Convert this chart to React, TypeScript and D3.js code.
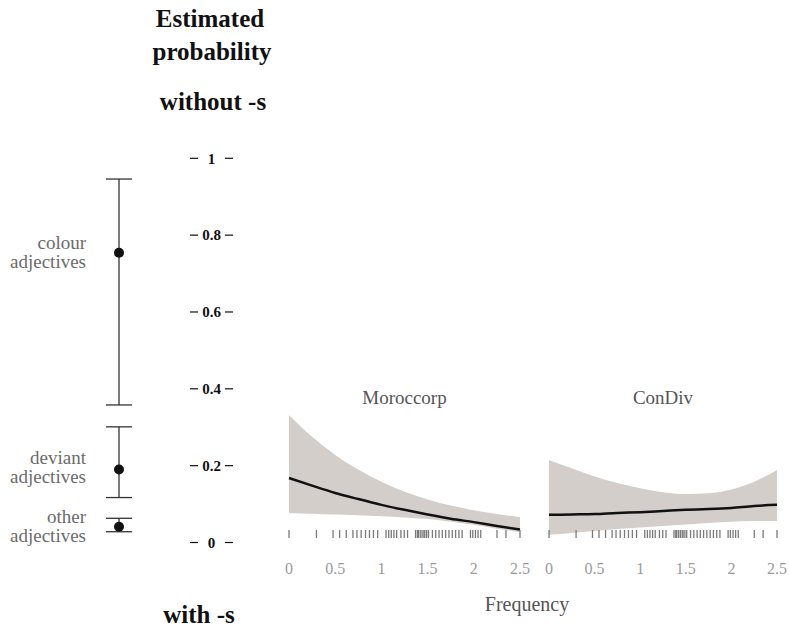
import React from "react";
import * as d3 from "d3";

// ---- data ----
const yTicks = [0, 0.2, 0.4, 0.6, 0.8, 1];
const yTickLabels = ["0", "0.2", "0.4", "0.6", "0.8", "1"];

const adjCategories = ["colour adjectives", "deviant adjectives", "other adjectives"];
const adjEstimate = [0.754, 0.19, 0.041];
const adjLower = [0.358, 0.117, 0.028];
const adjUpper = [0.946, 0.301, 0.063];

const panels = ["Moroccorp", "ConDiv"];
const freqGrid = [0, 0.25, 0.5, 0.75, 1, 1.25, 1.5, 1.75, 2, 2.25, 2.5];
const moroFit = [0.168, 0.148, 0.129, 0.113, 0.098, 0.085, 0.073, 0.062, 0.053, 0.043, 0.034];
const moroUpper = [0.332, 0.275, 0.228, 0.19, 0.158, 0.132, 0.112, 0.096, 0.084, 0.074, 0.066];
const moroLower = [0.077, 0.075, 0.073, 0.071, 0.068, 0.065, 0.061, 0.054, 0.046, 0.036, 0.027];
const conFit = [0.072, 0.073, 0.074, 0.077, 0.079, 0.082, 0.085, 0.087, 0.09, 0.095, 0.098];
const conUpper = [0.215, 0.193, 0.172, 0.155, 0.141, 0.131, 0.126, 0.128, 0.138, 0.158, 0.189];
const conLower = [0.02, 0.025, 0.03, 0.035, 0.039, 0.043, 0.047, 0.051, 0.054, 0.056, 0.056];

const rugFreqs = [
  0, 0.297, 0.477, 0.548, 0.62, 0.692, 0.735, 0.781, 0.828, 0.871, 0.914, 0.96,
  1.05, 1.079, 1.107, 1.136, 1.165, 1.211, 1.247, 1.283,
  1.37, 1.39, 1.4, 1.42, 1.44, 1.46, 1.47, 1.49, 1.51,
  1.552, 1.588, 1.624, 1.659, 1.695, 1.731, 1.767, 1.803, 1.839, 1.874,
  1.964, 1.989, 2.018, 2.046, 2.075, 2.251, 2.348, 2.5,
];
const xTicks = [0, 0.5, 1, 1.5, 2, 2.5];
const xTickLabels = ["0", "0.5", "1", "1.5", "2", "2.5"];

const SERIF = "'Liberation Serif', 'DejaVu Serif', serif";

export default function App() {
  const W = 789, H = 629;
  const y = d3.scaleLinear().domain([0, 1]).range([542.5, 158.3]);
  const panelRanges: [number, number][] = [[289, 520], [549, 777]];
  const panelData = [
    { fit: moroFit, lo: moroLower, hi: moroUpper },
    { fit: conFit, lo: conLower, hi: conUpper },
  ];
  const ex = 119;
  const serif = { fontFamily: SERIF };

  return (
    <svg width={W} height={H} style={{ position: "absolute", left: 0, top: 0, background: "#fff" }}>
      {/* titles */}
      <g style={serif} fontWeight="bold" fill="#111" fontSize={25} textAnchor="middle">
        <text x={210} y={27}>Estimated</text>
        <text x={212} y={60}>probability</text>
        <text x={213} y={110}>without -s</text>
        <text x={199} y={623}>with -s</text>
      </g>

      {/* y axis */}
      <g>
        {yTicks.map((t, i) => (
          <g key={i} transform={`translate(0,${y(t)})`}>
            <line x1={190} x2={198} stroke="#111" strokeWidth={1.2} />
            <line x1={225} x2={233} stroke="#111" strokeWidth={1.2} />
            <text x={211.5} dy="0.35em" textAnchor="middle" style={serif} fontWeight="bold" fontSize={15} fill="#111">
              {yTickLabels[i]}
            </text>
          </g>
        ))}
      </g>

      {/* error bars */}
      <g>
        {adjCategories.map((c, i) => {
          const words = c.split(" ");
          const labelY = [249, 464, 523][i];
          return (
            <g key={c}>
              <line x1={ex} x2={ex} y1={y(adjUpper[i])} y2={y(adjLower[i])} stroke="#333" strokeWidth={1.3} />
              <line x1={ex - 13} x2={ex + 13} y1={y(adjUpper[i])} y2={y(adjUpper[i])} stroke="#333" strokeWidth={1.3} />
              <line x1={ex - 13} x2={ex + 13} y1={y(adjLower[i])} y2={y(adjLower[i])} stroke="#333" strokeWidth={1.3} />
              <circle cx={ex} cy={y(adjEstimate[i])} r={5} fill="#111" />
              <text textAnchor="end" style={serif} fontSize={19} fill="#6b6b6b">
                <tspan x={86} y={labelY}>{words[0]}</tspan>
                <tspan x={86} y={labelY + 19}>{words[1]}</tspan>
              </text>
            </g>
          );
        })}
      </g>

      {/* panels */}
      {panels.map((p, pi) => {
        const x = d3.scaleLinear().domain([0, 2.5]).range(panelRanges[pi]);
        const pd = panelData[pi];
        const area = d3
          .area<number>()
          .x((f) => x(f))
          .y0((_, i) => y(pd.lo[i]))
          .y1((_, i) => y(pd.hi[i]))
          .curve(d3.curveMonotoneX);
        const line = d3
          .line<number>()
          .x((f) => x(f))
          .y((_, i) => y(pd.fit[i]))
          .curve(d3.curveMonotoneX);
        const cx = (panelRanges[pi][0] + panelRanges[pi][1]) / 2;
        return (
          <g key={p}>
            <text x={cx} y={404} textAnchor="middle" style={serif} fontSize={19} fill="#555">{p}</text>
            <path d={area(freqGrid) || ""} fill="#d4cecb" />
            <path d={line(freqGrid) || ""} fill="none" stroke="#111" strokeWidth={2.5} />
            {rugFreqs.map((f, i) => (
              <line key={i} x1={x(f)} x2={x(f)} y1={530} y2={538} stroke="#7a7a7a" strokeWidth={1.3} />
            ))}
            {xTicks.map((t, i) => (
              <text key={i} x={x(t)} y={574} textAnchor="middle" style={serif} fontSize={16} fill="#9a9a9a">
                {xTickLabels[i]}
              </text>
            ))}
          </g>
        );
      })}

      <text x={527} y={611} textAnchor="middle" style={serif} fontSize={20} fill="#555">Frequency</text>
    </svg>
  );
}
